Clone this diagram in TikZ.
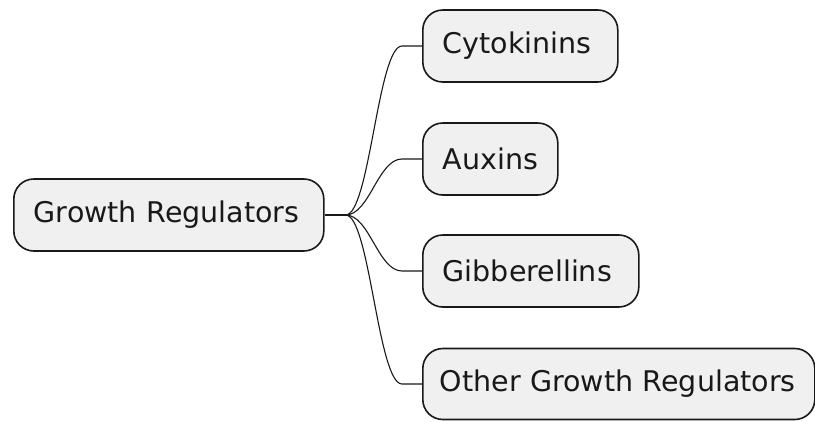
\documentclass[tikz,border=0pt]{standalone}
\usepackage{fontspec}
\setmainfont{DejaVu Sans}
\begin{document}
\begin{tikzpicture}[x=1pt,y=1pt,
  mmbox/.style={draw=black!90, line width=1.6pt, fill=black!6, rounded corners=20pt,
    minimum height=72pt, inner xsep=20pt, inner ysep=0pt, anchor=west, align=left,
    font=\fontsize{28.5}{34}\selectfont, text=black!90},
  link/.style={draw=black!90, line width=1.1pt}]
\useasboundingbox (0,0) rectangle (815,-421);
\node[mmbox, text width=270pt] (root) at (13,-215) {Growth Regulators};
\node[mmbox, text width=155pt] (c1) at (422,-46) {Cytokinins};
\node[mmbox, text width=95pt] (c2) at (422,-159) {Auxins};
\node[mmbox, text width=176pt] (c3) at (422,-271) {Gibberellins};
\node[mmbox, inner xsep=17pt, text width=358pt, minimum height=71pt] (c4) at (422,-384) {Other Growth Regulators};
\draw[link] (root.east) -- ++(21,0) coordinate (j);
\foreach \c in {c1,c2,c3,c4}{
  \draw[link] (j) .. controls +(24,0) and +(-24,0) .. ([xshift=-20pt]\c.west) -- (\c.west);
}
\end{tikzpicture}
\end{document}
